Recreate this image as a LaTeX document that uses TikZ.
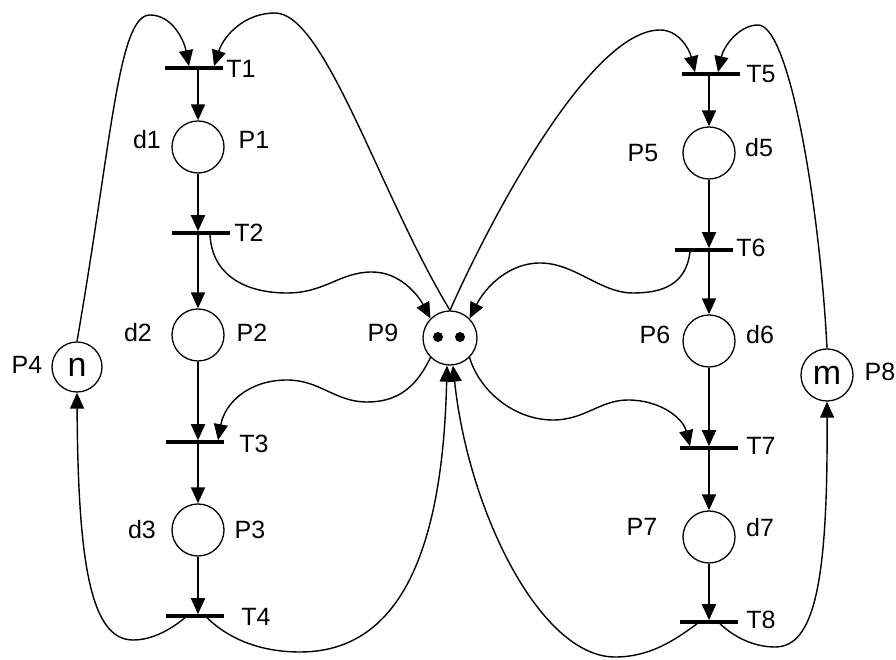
\documentclass[tikz,border=0pt]{standalone}
\usepackage{fontspec}
\setmainfont{Liberation Sans}
\usetikzlibrary{arrows.meta}
\begin{document}
\begin{tikzpicture}[x=1pt,y=1pt,
 place/.style={circle,draw,line width=1.3pt,minimum size=52pt,inner sep=0pt},
 trans/.style={rectangle,fill=black,minimum width=58pt,minimum height=3.2pt,inner sep=0pt},
 lbl/.style={font=\fontsize{25}{29}\selectfont,inner sep=0pt},
 big/.style={font=\fontsize{34}{38}\selectfont},
 arr/.style={-{Triangle[length=16pt,width=14pt]},line width=1.9pt},
 carc/.style={-{Triangle[length=16pt,width=14pt]},line width=1.4pt},
 token/.style={circle,fill=black,minimum size=10pt,inner sep=0pt}]
\useasboundingbox (0,0) rectangle (896,660);
% places
\node[place] (p1) at (198,513) {};
\node[place] (p2) at (198,325) {};
\node[place] (p3) at (198,130) {};
\node[place,minimum size=50pt,big] (p4) at (77,293) {n};
\node[place,minimum size=54pt] (p9) at (450,322) {};
\node[token] (k1) at (438,323) {};
\node[token] (k2) at (460,323) {};
\node[place] (p5) at (709,507) {};
\node[place] (p6) at (709,319) {};
\node[place] (p7) at (709,123) {};
\node[place,big] (p8) at (827,285) {m};
% transitions
\node[trans] (t1) at (194,592) {};
\node[trans] (t2) at (201,427) {};
\node[trans] (t3) at (195,218) {};
\node[trans] (t4) at (195,44) {};
\node[trans] (t5) at (711,586) {};
\node[trans] (t6) at (704,410) {};
\node[trans] (t7) at (709,212) {};
\node[trans] (t8) at (709,38) {};
% labels
\node[lbl] (lt1) at (241,591) {T1};
\node[lbl] (lt2) at (249,427) {T2};
\node[lbl] (lt3) at (254,216) {T3};
\node[lbl] (lt4) at (256,43) {T4};
\node[lbl] (lt5) at (761,586) {T5};
\node[lbl] (lt6) at (751,412) {T6};
\node[lbl] (lt7) at (761,214) {T7};
\node[lbl] (lt8) at (761,40) {T8};
\node[lbl] (ld1) at (147,520) {d1};
\node[lbl] (lp1) at (254,520) {P1};
\node[lbl] (ld2) at (138,327) {d2};
\node[lbl] (lp2) at (252,327) {P2};
\node[lbl] (ld3) at (142,130) {d3};
\node[lbl] (lp3) at (250,130) {P3};
\node[lbl] (lp4) at (27,295) {P4};
\node[lbl] (lp9) at (383,327) {P9};
\node[lbl] (lp5) at (643,507) {P5};
\node[lbl] (ld5) at (759,512) {d5};
\node[lbl] (lp6) at (655,325) {P6};
\node[lbl] (ld6) at (760,325) {d6};
\node[lbl] (lp7) at (642,133) {P7};
\node[lbl] (ld7) at (760,132) {d7};
\node[lbl] (lp8) at (880,288) {P8};
% straight arcs
\draw[arr] (p1 |- t1.south) -- (p1.north);
\draw[arr] (p1.south) -- (p1 |- t2.north);
\draw[arr] (p2 |- t2.south) -- (p2.north);
\draw[arr] (p2.south) -- (p2 |- t3.north);
\draw[arr] (p3 |- t3.south) -- (p3.north);
\draw[arr] (p3.south) -- (p3 |- t4.north);
\draw[arr] (p5 |- t5.south) -- (p5.north);
\draw[arr] (p5.south) -- (p5 |- t6.north);
\draw[arr] (p6 |- t6.south) -- (p6.north);
\draw[arr] (p6.south) -- (p6 |- t7.north);
\draw[arr] (p7 |- t7.south) -- (p7.north);
\draw[arr] (p7.south) -- (p7 |- t8.north);
% curved arcs
\draw[carc] (p4.north) .. controls (112,520) and (118,645) .. (150,645) .. controls (172,645) and (184,620) .. ([xshift=-5pt]t1.north);
\draw[carc] (p9.north) .. controls (380,465) and (325,647) .. (275,647) .. controls (245,647) and (224,625) .. ([xshift=20pt]t1.north);
\draw[carc] (p9.north) .. controls (490,440) and (590,630) .. (660,630) .. controls (678,630) and (689,612) .. ([xshift=-16pt]t5.north);
\draw[carc] (p8.north) .. controls (820,450) and (790,635) .. (758,635) .. controls (740,635) and (724,615) .. ([xshift=7pt]t5.north);
\draw[carc] ([xshift=9pt]t2.south) .. controls (212,385) and (245,367) .. (287,367) .. controls (325,367) and (340,388) .. (372,388) .. controls (400,388) and (418,365) .. (p9.north west);
\draw[carc] ([xshift=-14pt]t6.south) .. controls (686,375) and (662,367) .. (633,367) .. controls (600,367) and (575,397) .. (540,397) .. controls (508,397) and (485,372) .. (p9.north east);
\draw[carc] (p9.south west) .. controls (415,270) and (395,258) .. (367,258) .. controls (335,258) and (320,280) .. (287,280) .. controls (250,280) and (225,258) .. ([xshift=23pt]t3.north);
\draw[carc] (p9.south east) .. controls (480,268) and (515,240) .. (553,240) .. controls (585,240) and (600,260) .. (628,260) .. controls (660,260) and (683,242) .. ([xshift=-19pt]t7.north);
\draw[carc] ([xshift=12pt]t4.south) .. controls (230,20) and (262,8) .. (300,8) .. controls (405,8) and (443,120) .. ([xshift=-3pt]p9.south);
\draw[carc] ([xshift=-12pt]t8.south) .. controls (675,20) and (650,3) .. (615,3) .. controls (540,3) and (468,150) .. ([xshift=3pt]p9.south);
\draw[carc] ([xshift=-10pt]t4.south) .. controls (170,30) and (152,20) .. (133,20) .. controls (90,20) and (78,100) .. (p4.south);
\draw[carc] ([xshift=11pt]t8.south) .. controls (735,22) and (755,13) .. (775,13) .. controls (815,13) and (828,80) .. (p8.south);
\end{tikzpicture}
\end{document}
